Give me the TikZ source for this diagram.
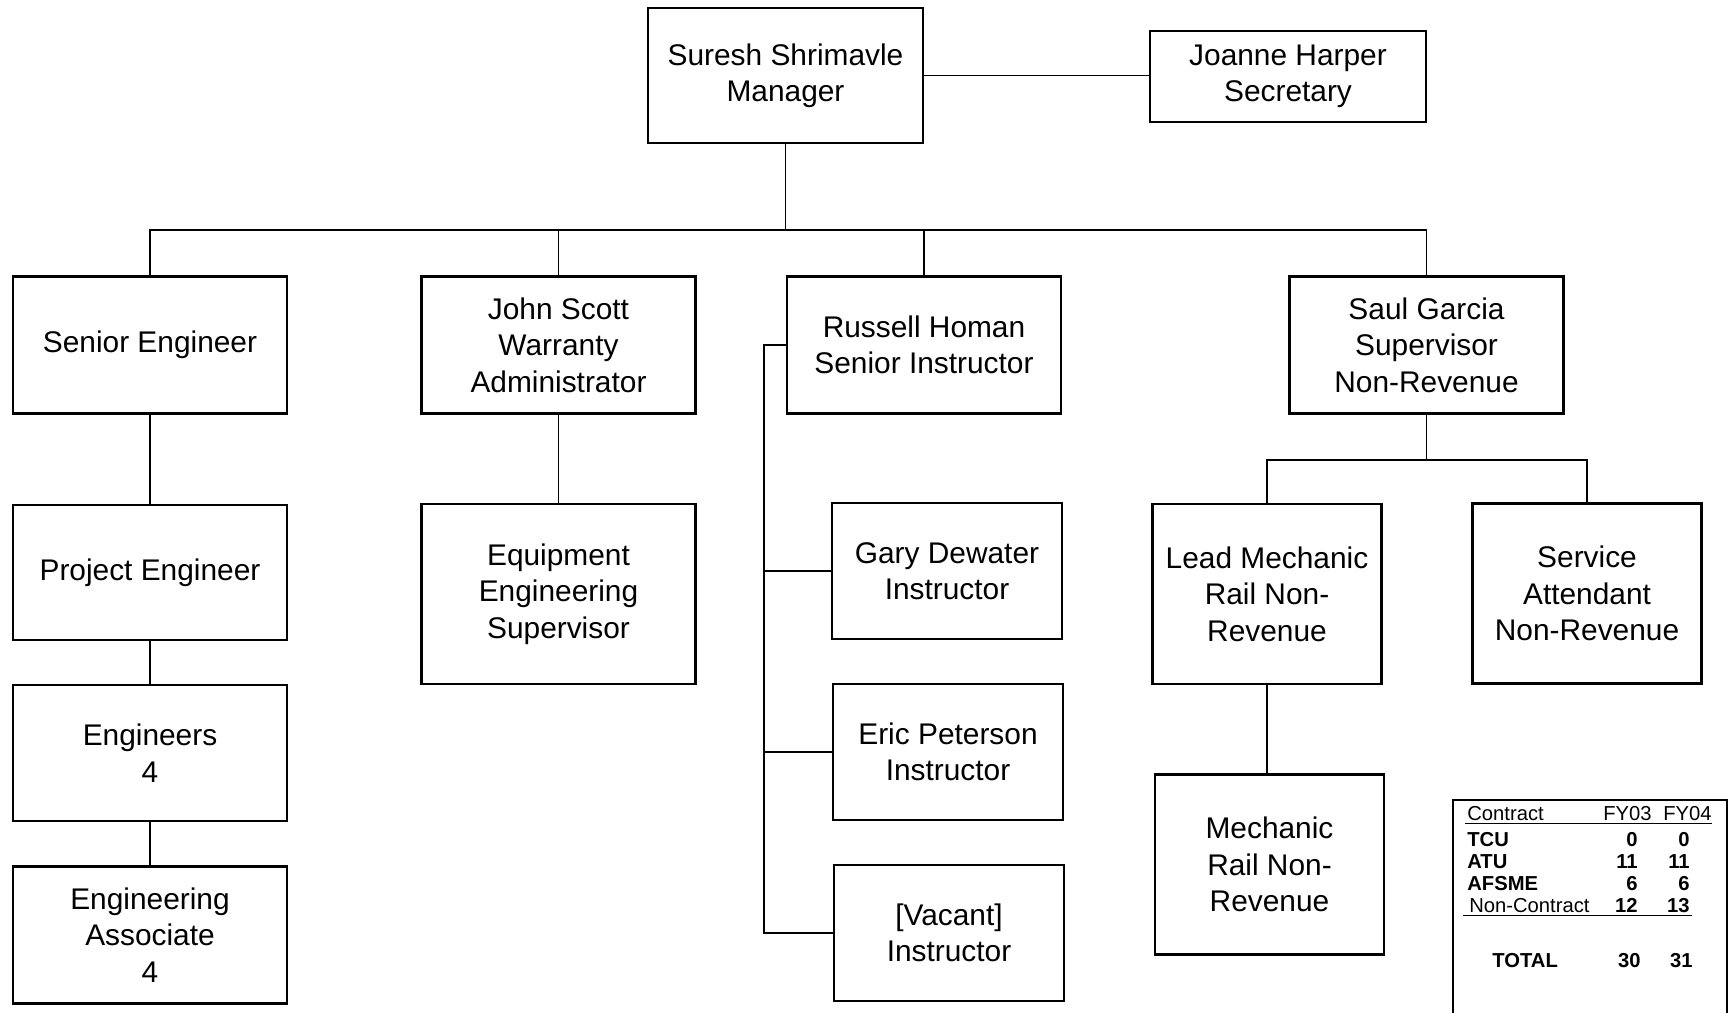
\documentclass[tikz,border=0pt]{standalone}
\usepackage{fontspec}
\setmainfont{Liberation Sans}
\usetikzlibrary{positioning}

\begin{document}
\begin{tikzpicture}[x=0.02cm, y=-0.02cm,
    orgbox/.style={draw, line width=1.3pt, align=center, inner sep=2pt, font=\fontsize{17}{20.7}\selectfont},
    stdbox/.style={orgbox, minimum width=5.48cm, minimum height=2.74cm},
    bigbox/.style={orgbox, minimum width=5.48cm, minimum height=3.6cm},
    narrowbox/.style={orgbox, minimum width=4.6cm, minimum height=2.72cm},
    tallbox/.style={orgbox, minimum width=4.58cm, minimum height=3.6cm},
    link/.style={line width=0.8pt},
    cell/.style={inner sep=0pt, font=\fontsize{11.5}{13}\selectfont\bfseries},
    headcell/.style={inner sep=0pt, font=\fontsize{11.5}{13}\selectfont}]
    \useasboundingbox (0,0) rectangle (1733,1013);

    % Top level
    \node[orgbox, minimum width=5.5cm, minimum height=2.7cm] (mgr) at (785.5,75.5) {Suresh Shrimavle\\Manager};
    \node[orgbox, minimum width=5.52cm, minimum height=1.82cm] (sec) at (1288,76.5) {Joanne Harper\\Secretary};

    % Second level
    \node[stdbox] (seng) at (150,345) {Senior Engineer};
    \node[stdbox] (scott) at (558.5,345) {John Scott\\Warranty\\Administrator};
    \node[stdbox] (homan) at (924,345) {Russell Homan\\Senior Instructor};
    \node[stdbox] (garcia) at (1426.5,345) {Saul Garcia\\Supervisor\\Non-Revenue};

    % Engineering column
    \node[stdbox, minimum height=2.7cm] (peng) at (150,572.5) {Project Engineer};
    \node[stdbox, minimum height=2.72cm] (engs) at (150,753) {Engineers\\4};
    \node[stdbox] (eassoc) at (150,935) {Engineering\\Associate\\4};
    \node[bigbox] (equip) at (558.5,594) {Equipment\\Engineering\\Supervisor};

    % Instructors
    \node[narrowbox] (gary) at (947,571) {Gary Dewater\\Instructor};
    \node[narrowbox] (eric) at (948,752) {Eric Peterson\\Instructor};
    \node[narrowbox] (vacant) at (949,933) {[Vacant]\\Instructor};

    % Non-revenue
    \node[tallbox] (lead) at (1267,594) {Lead Mechanic\\Rail Non-\\Revenue};
    \node[tallbox] (serv) at (1587,593.5) {Service\\Attendant\\Non-Revenue};
    \node[tallbox] (mech) at (1269.5,864.5) {Mechanic\\Rail Non-\\Revenue};

    % Connectors
    \coordinate (topbar) at (785.5,230);
    \coordinate (spine) at (764,345);
    \coordinate (gbar) at (1426.5,460);
    \draw[link] (mgr.east) -- (mgr.east -| sec.west);
    \draw[link] (mgr) -- (topbar);
    \draw[link] (seng.north) |- (topbar) -| (garcia.north);
    \draw[link] (scott.north) -- (scott.north |- topbar);
    \draw[link] (homan.north) -- (homan.north |- topbar);
    \draw[link] (seng) -- (peng) -- (engs) -- (eassoc);
    \draw[link] (scott) -- (equip);
    \draw[link] (homan.west) -- (spine) |- (vacant.west);
    \draw[link] (spine |- gary.west) -- (gary.west);
    \draw[link] (spine |- eric.west) -- (eric.west);
    \draw[link] (garcia) -- (gbar);
    \draw[link] (lead.north) |- (gbar) -| (serv.north);
    \draw[link] (lead.south) -- (mech.north -| lead.south);

    % Staffing table
    \draw[line width=1.1pt] (1453,1013) -- (1453,800) -- (1727,800) -- (1727,1013);
    \node[headcell, anchor=base west] (hcon) at (1467,820) {Contract};
    \node[headcell, anchor=base east] (hfy3) at (1652,820) {FY03};
    \node[headcell, anchor=base east] (hfy4) at (1712,820) {FY04};
    \draw[link] (1465,823.5) -- (1712,823.5);
    \node[cell, anchor=base west] (tcu) at (1467,846) {TCU};
    \node[cell, anchor=base east] at (1638,846) {0};
    \node[cell, anchor=base east] at (1690,846) {0};
    \node[cell, anchor=base west] (atu) at (1467,868) {ATU};
    \node[cell, anchor=base east] at (1638,868) {11};
    \node[cell, anchor=base east] at (1690,868) {11};
    \node[cell, anchor=base west] (afsme) at (1467,890) {AFSME};
    \node[cell, anchor=base east] at (1638,890) {6};
    \node[cell, anchor=base east] at (1690,890) {6};
    \node[headcell, anchor=base west] (noncon) at (1469,912) {Non-Contract};
    \node[cell, anchor=base east] at (1638,912) {12};
    \node[cell, anchor=base east] at (1690,912) {13};
    \draw[link] (1463,915.5) -- (1692,915.5);
    \node[cell, anchor=base west] (total) at (1492,967) {TOTAL};
    \node[cell, anchor=base east] at (1641,967) {30};
    \node[cell, anchor=base east] at (1693,967) {31};
\end{tikzpicture}
\end{document}
